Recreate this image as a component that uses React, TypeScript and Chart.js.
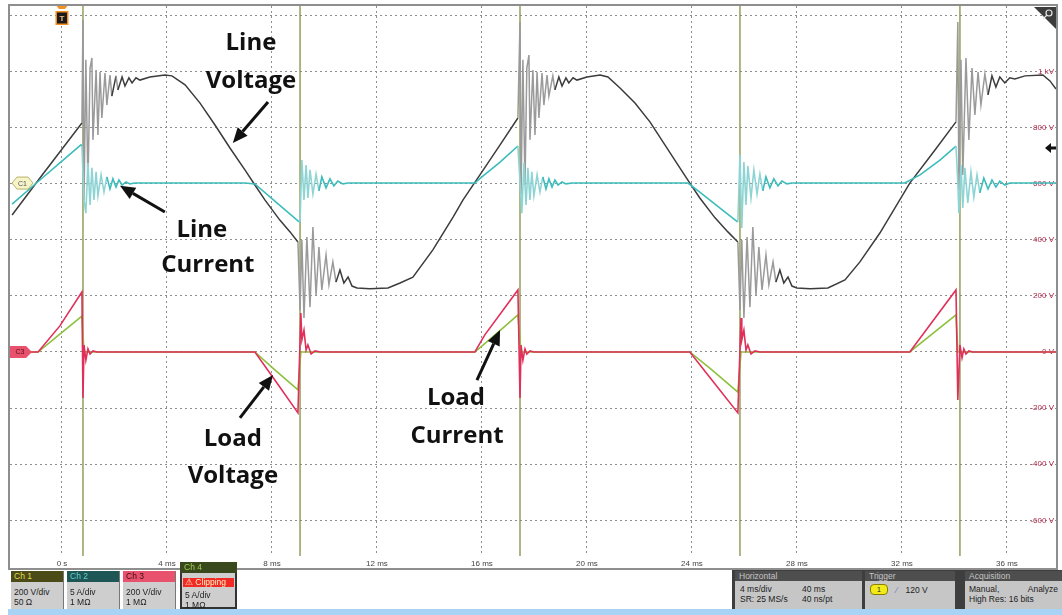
import React, { useEffect, useRef } from 'react';
import { Chart, registerables } from 'chart.js';

Chart.register(...registerables);

// ---- axes ----
const xTickValues = [0, 4, 8, 12, 16, 20, 24, 28, 32, 36];
const xTickLabels = ['0 s', '4 ms', '8 ms', '12 ms', '16 ms', '20 ms', '24 ms', '28 ms', '32 ms', '36 ms'];
const yTickValues = [-600, -400, -200, 0, 200, 400, 600, 800, 1000, 1200];
const yTickLabels = ['-600 V', '-400 V', '-200 V', '0 V', '200 V', '400 V', '600 V', '800 V', '1 kV', ''];
const xRange = [-1.98, 37.87];
const yRange = [-727, 1233];

// ---- traces: [time ms, value on the displayed scale] ----
const lineVoltage: number[][] = [
  [-1.90, 488], [-0.84, 620], [0.76, 816], [0.80, 1183], [0.84, 542], [0.91, 1041], [0.99, 595],
  [1.07, 1012], [1.14, 1048], [1.18, 756], [1.30, 1005], [1.37, 773], [1.45, 998], [1.52, 834],
  [1.64, 994], [1.71, 880], [1.83, 987], [1.90, 912], [2.06, 984], [2.13, 934], [2.29, 980],
  [2.40, 948], [2.55, 977], [2.67, 959], [2.82, 977], [2.97, 969], [3.35, 980], [3.92, 987],
  [4.19, 984], [4.69, 952], [5.26, 887], [5.83, 809], [6.40, 727], [6.97, 649], [7.35, 595],
  [7.73, 542], [8.30, 470], [8.69, 428], [8.99, 392],
  [9.07, 150], [9.14, 399], [9.22, 121], [9.33, 410], [9.45, 160], [9.56, 445], [9.68, 203],
  [9.79, 374], [9.90, 221], [10.06, 346], [10.17, 239], [10.32, 321], [10.44, 249], [10.59, 292],
  [10.74, 246], [10.90, 267], [11.05, 235], [11.24, 228], [11.73, 225], [12.42, 228], [12.88, 246],
  [13.37, 267], [14.13, 364], [14.90, 481], [15.28, 542], [16.00, 642], [16.69, 738], [17.37, 834],
  [17.45, 1176], [17.49, 560], [17.56, 1041], [17.64, 595], [17.71, 1012], [17.79, 1058], [17.83, 756],
  [17.94, 1005], [18.02, 773], [18.10, 998], [18.17, 834], [18.29, 994], [18.36, 880], [18.48, 987],
  [18.55, 912], [18.70, 984], [18.78, 934], [18.93, 980], [19.05, 948], [19.20, 977], [19.31, 959],
  [19.47, 977], [19.62, 969], [20.00, 980], [20.50, 987], [20.80, 980], [21.26, 941], [21.83, 887],
  [22.40, 820], [22.97, 738], [23.54, 656], [23.92, 602], [24.30, 549], [24.88, 478], [25.37, 428],
  [25.75, 392],
  [25.83, 150], [25.90, 399], [25.98, 121], [26.10, 410], [26.21, 160], [26.32, 445], [26.44, 203],
  [26.55, 374], [26.67, 221], [26.82, 346], [26.93, 239], [27.09, 321], [27.20, 249], [27.35, 292],
  [27.50, 246], [27.66, 267], [27.81, 235], [28.00, 228], [28.50, 225], [29.18, 228], [29.83, 257],
  [30.40, 321], [31.16, 424], [32.30, 602], [33.26, 720], [34.06, 820],
  [34.13, 1176], [34.17, 577], [34.25, 1041], [34.32, 631], [34.44, 1048], [34.55, 756], [34.67, 1012],
  [34.78, 845], [34.90, 998], [35.01, 880], [35.16, 991], [35.28, 916], [35.43, 984], [35.58, 944],
  [35.73, 980], [35.92, 959], [36.11, 977], [36.30, 973], [36.69, 984], [37.37, 987], [37.64, 966],
  [37.87, 937],
];

const lineCurrent: number[][] = [
  [-1.90, 527], [-0.84, 613], [-0.08, 674], [0.72, 738], [0.76, 734],
  [0.84, 542], [0.91, 495], [0.99, 674], [1.07, 524], [1.14, 656], [1.22, 542], [1.30, 642],
  [1.37, 556], [1.49, 631], [1.60, 570], [1.71, 624], [1.83, 581], [1.94, 617], [2.06, 588],
  [2.17, 613], [2.29, 595], [2.44, 606], [2.59, 599], [2.78, 602], [6.97, 602], [7.35, 599],
  [8.11, 538], [8.99, 467], [9.07, 463],
  [9.14, 684], [9.22, 542], [9.30, 666], [9.37, 549], [9.45, 649], [9.56, 563], [9.68, 634],
  [9.79, 574], [9.90, 624], [10.06, 585], [10.21, 617], [10.36, 592], [10.51, 609], [10.70, 599],
  [10.90, 602], [15.73, 602], [16.00, 624], [16.69, 677], [17.37, 734],
  [17.49, 542], [17.52, 495], [17.60, 674], [17.68, 524], [17.75, 656], [17.83, 542], [17.90, 642],
  [17.98, 556], [18.10, 631], [18.21, 570], [18.32, 624], [18.44, 581], [18.55, 617], [18.67, 588],
  [18.78, 613], [18.90, 595], [19.05, 606], [19.20, 599], [19.43, 602], [23.85, 602], [24.30, 570],
  [25.07, 513], [25.75, 463],
  [25.83, 702], [25.90, 442], [25.98, 677], [26.06, 524], [26.13, 663], [26.25, 549], [26.36, 649],
  [26.48, 563], [26.59, 634], [26.70, 574], [26.82, 624], [26.97, 585], [27.12, 617], [27.28, 592],
  [27.43, 609], [27.62, 599], [27.81, 602], [32.11, 602], [32.69, 631], [33.45, 684], [34.06, 734],
  [34.13, 602], [34.17, 495], [34.25, 666], [34.32, 513], [34.40, 656], [34.51, 531], [34.63, 642],
  [34.74, 552], [34.86, 631], [34.97, 567], [35.12, 620], [35.28, 581], [35.43, 613], [35.58, 588],
  [35.73, 609], [35.92, 595], [36.11, 602], [37.87, 602],
];

const loadVoltage: number[][] = [
  [-1.90, 0], [-0.91, 0], [-0.08, 93], [0.76, 214], [0.80, -164], [0.84, 25], [0.91, -29],
  [0.99, 11], [1.07, -7], [1.18, 4], [1.33, 0], [7.35, 0], [8.11, -100], [8.99, -217],
  [9.10, 139], [9.14, 43], [9.22, 78], [9.30, 7], [9.37, 25], [9.49, -7], [9.64, 4], [9.83, 0],
  [15.73, 0], [16.11, 61], [17.37, 221], [17.45, -164], [17.49, 25], [17.56, -29], [17.64, 11],
  [17.71, -7], [17.83, 4], [17.98, 0], [23.92, 0], [24.76, -100], [25.75, -217],
  [25.87, 121], [25.90, 43], [25.98, 78], [26.06, 7], [26.13, 25], [26.25, -7], [26.40, 4],
  [26.59, 0], [32.30, 0], [34.06, 221], [34.13, -171], [34.21, 25], [34.29, -21], [34.36, 11],
  [34.44, -7], [34.55, 4], [34.70, 0], [37.87, 0],
];

const loadCurrent: number[][] = [
  [-1.90, 0], [-0.91, 0], [-0.08, 64], [0.76, 128], [0.84, 0], [7.35, 0], [8.11, -64],
  [8.99, -135], [9.10, 0], [15.73, 0], [16.50, 61], [17.37, 132], [17.49, 0], [23.92, 0],
  [24.76, -64], [25.75, -143], [25.87, 0], [32.30, 0], [34.06, 132], [34.13, 0], [37.87, 0],
];

// switching instants where Ch 4 clips over the full screen
const clipTimes = [0.80, 9.07, 17.45, 25.83, 34.21];

// channel reference markers and trigger level
const ch1Level = 602;
const ch3Level = 0;
const triggerLevel = 727;
const triggerTime = 0;

// annotations: text lines with [time, value] baselines and arrows [tail, tip]
const annotationLines = [
  ['Line', 'Voltage'],
  ['Line', 'Current'],
  ['Load', 'Voltage'],
  ['Load', 'Current'],
];
const annotationAnchors = [
  [[7.20, 1076], [7.20, 941]],
  [[5.33, 410], [5.56, 285]],
  [[6.51, -335], [6.51, -467]],
  [[15.01, -189], [15.05, -324]],
];
const annotationArrows = [
  [[7.85, 891], [6.51, 745]],
  [[3.92, 499], [2.21, 592]],
  [[6.78, -235], [8.04, -82]],
  [[15.81, -100], [16.69, 78]],
];

const toXY = (arr: number[][]) => arr.map(([x, y]) => ({ x, y }));

const steep = (light: string) => (ctx: any) => {
  const dx = Math.abs(ctx.p1.x - ctx.p0.x);
  const dy = Math.abs(ctx.p1.y - ctx.p0.y);
  return dy > 5 * Math.max(dx, 0.1) ? light : undefined;
};

function drawArrow(ctx: CanvasRenderingContext2D, x0: number, y0: number, x1: number, y1: number) {
  const ang = Math.atan2(y1 - y0, x1 - x0);
  const hl = 15;
  const hw = 6.5;
  const bx = x1 - hl * Math.cos(ang);
  const by = y1 - hl * Math.sin(ang);
  ctx.beginPath();
  ctx.moveTo(x0, y0);
  ctx.lineTo(bx, by);
  ctx.lineWidth = 3;
  ctx.strokeStyle = '#111';
  ctx.stroke();
  ctx.beginPath();
  ctx.moveTo(x1, y1);
  ctx.lineTo(bx + hw * Math.sin(ang), by - hw * Math.cos(ang));
  ctx.lineTo(bx - hw * Math.sin(ang), by + hw * Math.cos(ang));
  ctx.closePath();
  ctx.fillStyle = '#111';
  ctx.fill();
}

const overlayPlugin = {
  id: 'overlay',
  afterDraw(chart: any) {
    const { ctx, chartArea } = chart;
    const xs = chart.scales.x;
    const ys = chart.scales.y;
    ctx.save();

    // annotations
    ctx.font = 'bold 24px "Open Sans", "DejaVu Sans", sans-serif';
    ctx.textAlign = 'center';
    ctx.textBaseline = 'alphabetic';
    ctx.fillStyle = '#111';
    annotationLines.forEach((lines, i) => {
      lines.forEach((s, j) => {
        const [t, v] = annotationAnchors[i][j];
        ctx.fillText(s, xs.getPixelForValue(t), ys.getPixelForValue(v));
      });
      const [[t0, v0], [t1, v1]] = annotationArrows[i];
      drawArrow(ctx, xs.getPixelForValue(t0), ys.getPixelForValue(v0), xs.getPixelForValue(t1), ys.getPixelForValue(v1));
    });

    // C1 marker
    const l = chartArea.left + 2;
    let yc = ys.getPixelForValue(ch1Level);
    ctx.beginPath();
    ctx.moveTo(l, yc);
    ctx.lineTo(l + 5, yc - 6);
    ctx.lineTo(l + 16, yc - 6);
    ctx.lineTo(l + 21, yc);
    ctx.lineTo(l + 16, yc + 6);
    ctx.lineTo(l + 5, yc + 6);
    ctx.closePath();
    ctx.fillStyle = '#f6f4c8';
    ctx.fill();
    ctx.lineWidth = 1;
    ctx.strokeStyle = '#b8b46a';
    ctx.stroke();
    ctx.font = '7px "Liberation Sans", sans-serif';
    ctx.fillStyle = '#555';
    ctx.textBaseline = 'middle';
    ctx.fillText('C1', l + 10.5, yc + 0.5);

    // C3 marker
    yc = ys.getPixelForValue(ch3Level);
    const l3 = chartArea.left;
    ctx.beginPath();
    ctx.moveTo(l3, yc - 6);
    ctx.lineTo(l3 + 16, yc - 6);
    ctx.lineTo(l3 + 22, yc);
    ctx.lineTo(l3 + 16, yc + 6);
    ctx.lineTo(l3, yc + 6);
    ctx.closePath();
    ctx.fillStyle = '#e8506c';
    ctx.fill();
    ctx.fillStyle = '#5a1020';
    ctx.fillText('C3', l3 + 10, yc + 0.5);

    // trigger position marker (T)
    const tx = xs.getPixelForValue(triggerTime);
    const top = chartArea.top;
    ctx.beginPath();
    ctx.moveTo(tx - 6, top - 1);
    ctx.lineTo(tx + 6, top - 1);
    ctx.lineTo(tx + 3, top + 3);
    ctx.lineTo(tx - 3, top + 3);
    ctx.closePath();
    ctx.fillStyle = '#f29022';
    ctx.fill();
    ctx.fillRect(tx - 6.5, top + 5, 13, 14);
    ctx.fillStyle = '#1a1a1a';
    ctx.fillRect(tx - 5, top + 6.5, 10, 11);
    ctx.fillStyle = '#f0c080';
    ctx.font = 'bold 8px "Liberation Sans", sans-serif';
    ctx.textBaseline = 'middle';
    ctx.fillText('T', tx, top + 12.5);

    // trigger level arrow (right)
    const ty = ys.getPixelForValue(triggerLevel);
    const r = chartArea.right;
    ctx.beginPath();
    ctx.moveTo(r - 11, ty);
    ctx.lineTo(r - 5, ty - 5);
    ctx.lineTo(r - 5, ty + 5);
    ctx.closePath();
    ctx.fillStyle = '#111';
    ctx.fill();
    ctx.fillRect(r - 6, ty - 1.5, 6, 3);

    // corner zoom icon
    ctx.beginPath();
    ctx.moveTo(r - 22, top + 1);
    ctx.lineTo(r, top + 1);
    ctx.lineTo(r, top + 23);
    ctx.closePath();
    ctx.fillStyle = '#3c3c3c';
    ctx.fill();
    ctx.strokeStyle = '#e6e6e6';
    ctx.lineWidth = 1.2;
    ctx.beginPath();
    ctx.arc(r - 7, top + 7, 3, 0, Math.PI * 2);
    ctx.stroke();
    ctx.beginPath();
    ctx.moveTo(r - 9.5, top + 9.5);
    ctx.lineTo(r - 13, top + 13);
    ctx.stroke();

    ctx.restore();
  },
};

function Scope() {
  const ref = useRef<HTMLCanvasElement | null>(null);
  useEffect(() => {
    if (!ref.current) return;
    const clipData: any[] = [];
    clipTimes.forEach((t) => {
      clipData.push({ x: t, y: yRange[1] + 100 }, { x: t, y: yRange[0] - 100 }, { x: t, y: null });
    });
    const gridCommon = { color: '#8e8e8e', lineWidth: 1, drawTicks: false };
    const borderCommon = { display: false, dash: [2, 3], dashOffset: 0 };
    const chart = new Chart(ref.current, {
      type: 'line',
      data: {
        datasets: [
          {
            label: 'Load Voltage (Ch 3)',
            data: toXY(loadVoltage),
            borderColor: '#e0305a',
            borderWidth: 1.6,
            order: 1,
          },
          {
            label: 'Load Current (Ch 4)',
            data: toXY(loadCurrent),
            borderColor: '#8cc03e',
            borderWidth: 1.6,
            order: 2,
          },
          {
            label: 'Line Current (Ch 2)',
            data: toXY(lineCurrent),
            borderColor: '#3dbcbc',
            borderWidth: 1.6,
            segment: { borderColor: steep('#8fd4d4') },
            order: 3,
          },
          {
            label: 'Line Voltage (Ch 1)',
            data: toXY(lineVoltage),
            borderColor: '#3c3c3c',
            borderWidth: 1.5,
            segment: { borderColor: steep('#9a9a9a') },
            order: 4,
          },
          {
            label: 'Ch 4 clipping',
            data: clipData,
            borderColor: 'rgba(128,142,62,0.8)',
            borderWidth: 1.6,
            spanGaps: false,
            order: 10,
          },
        ],
      },
      options: {
        animation: false,
        responsive: false,
        maintainAspectRatio: false,
        layout: { padding: { left: 10, right: 6, top: 6, bottom: 0 } },
        plugins: { legend: { display: false }, tooltip: { enabled: false } },
        elements: { point: { radius: 0 }, line: { tension: 0 } },
        scales: {
          x: {
            type: 'linear',
            min: xRange[0],
            max: xRange[1],
            afterBuildTicks: (s: any) => {
              s.ticks = xTickValues.map((value) => ({ value }));
            },
            afterFit: (s: any) => {
              s.height = 14;
            },
            grid: gridCommon,
            border: borderCommon,
            ticks: {
              autoSkip: false,
              maxRotation: 0,
              padding: 3,
              color: '#444',
              font: { size: 8, family: '"Liberation Sans", sans-serif' },
              callback: (_v: any, i: number) => xTickLabels[i],
            },
          },
          y: {
            type: 'linear',
            position: 'right',
            min: yRange[0],
            max: yRange[1],
            afterBuildTicks: (s: any) => {
              s.ticks = yTickValues.map((value) => ({ value }));
            },
            afterFit: (s: any) => {
              s.width = 0;
            },
            grid: gridCommon,
            border: borderCommon,
            ticks: {
              mirror: true,
              padding: -2,
              color: '#b02c4c',
              font: { size: 8, family: '"Liberation Sans", sans-serif' },
              callback: (_v: any, i: number) => yTickLabels[i],
            },
          },
        },
      },
      plugins: [overlayPlugin],
    } as any);
    return () => chart.destroy();
  }, []);
  return <canvas ref={ref} width={1062} height={570} style={{ position: 'absolute', left: 0, top: 0 }} />;
}

const small: React.CSSProperties = { fontSize: 8.5, fontFamily: '"Liberation Sans", Arial, sans-serif', lineHeight: '10px' };

function ChBox(props: { left: number; title: string; hbg: string; hcol: string; lines: string[] }) {
  return (
    <div style={{ position: 'absolute', left: props.left, top: 571, width: 52, height: 38, background: '#cecece', borderRight: '1px solid #777', ...small }}>
      <div style={{ height: 11, background: props.hbg, color: props.hcol, paddingLeft: 3, lineHeight: '11px' }}>{props.title}</div>
      <div style={{ padding: '5px 3px 0 3px', color: '#222' }}>
        {props.lines.map((s) => (
          <div key={s}>{s}</div>
        ))}
      </div>
    </div>
  );
}

function StatusBar() {
  return (
    <>
      <ChBox left={11} title="Ch 1" hbg="#4b4b17" hcol="#e2da52" lines={['200 V/div', '50 Ω']} />
      <ChBox left={67} title="Ch 2" hbg="#1e5656" hcol="#62d0d0" lines={['5 A/div', '1 MΩ']} />
      <ChBox left={123} title="Ch 3" hbg="#e9526c" hcol="#3a0a14" lines={['200 V/div', '1 MΩ']} />
      <div style={{ position: 'absolute', left: 180, top: 562, width: 57, height: 11, background: '#3a481d', color: '#9fcf52', paddingLeft: 4, boxSizing: 'border-box', ...small, lineHeight: '11px' }}>Ch 4</div>
      <div style={{ position: 'absolute', left: 180, top: 573, width: 57, height: 36, background: '#cecece', border: '2px solid #333', borderTop: 'none', boxSizing: 'border-box', ...small }}>
        <div style={{ margin: '5px 1px 0 1px', height: 9, background: '#f22a26', color: '#fff3c0', lineHeight: '9px', paddingLeft: 2 }}>⚠ Clipping</div>
        <div style={{ padding: '3px 3px 0 3px', color: '#222' }}>
          <div>5 A/div</div>
          <div>1 MΩ</div>
        </div>
      </div>
      <div style={{ position: 'absolute', left: 732, top: 570, width: 330, height: 39, background: '#3e3e3e' }} />
      <div style={{ position: 'absolute', left: 735, top: 571, width: 127, height: 38, background: '#c6c6c6', ...small }}>
        <div style={{ height: 10, background: '#4e4e4e', color: '#c4c4c4', paddingLeft: 4, lineHeight: '10px' }}>Horizontal</div>
        <div style={{ display: 'flex', padding: '3px 5px', color: '#222' }}>
          <div style={{ width: 62 }}>
            <div>4 ms/div</div>
            <div>SR: 25 MS/s</div>
          </div>
          <div>
            <div>40 ms</div>
            <div>40 ns/pt</div>
          </div>
        </div>
      </div>
      <div style={{ position: 'absolute', left: 865, top: 571, width: 90, height: 38, background: '#c6c6c6', ...small }}>
        <div style={{ height: 10, background: '#4e4e4e', color: '#c4c4c4', paddingLeft: 4, lineHeight: '10px' }}>Trigger</div>
        <div style={{ display: 'flex', alignItems: 'center', padding: '3px 5px', color: '#222' }}>
          <span style={{ display: 'inline-block', width: 16, height: 9, borderRadius: 4, background: '#f2ea1a', border: '1px solid #8a8000', textAlign: 'center', lineHeight: '9px', fontSize: 7 }}>1</span>
          <span style={{ color: '#7b6fc8', margin: '0 8px' }}>⁄</span>
          <span>120 V</span>
        </div>
      </div>
      <div style={{ position: 'absolute', left: 965, top: 571, width: 97, height: 38, background: '#c6c6c6', ...small }}>
        <div style={{ height: 10, background: '#4e4e4e', color: '#c4c4c4', paddingLeft: 4, lineHeight: '10px' }}>Acquisition</div>
        <div style={{ padding: '3px 4px', color: '#222' }}>
          <div style={{ display: 'flex', justifyContent: 'space-between' }}>
            <span>Manual,</span>
            <span>Analyze</span>
          </div>
          <div>High Res: 16 bits</div>
        </div>
      </div>
      <div style={{ position: 'absolute', left: 8, top: 609, width: 1054, height: 6, background: '#a9d3f5' }} />
    </>
  );
}

export default function App() {
  return (
    <div style={{ position: 'fixed', left: 0, top: 0, width: 1062, height: 615, background: '#fff', overflow: 'hidden' }}>
      <Scope />
      <div style={{ position: 'absolute', left: 8, top: 4, width: 1050, height: 566, border: '2px solid #8e8e8e', boxSizing: 'border-box', pointerEvents: 'none' }} />
      <StatusBar />
    </div>
  );
}
